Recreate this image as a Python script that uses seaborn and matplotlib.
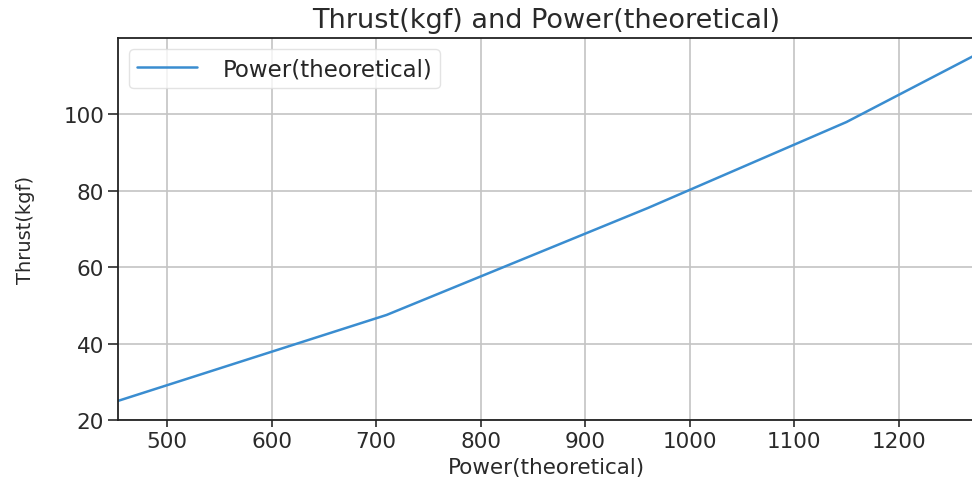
import matplotlib
matplotlib.use("Agg")
import matplotlib.pyplot as plt
import seaborn as sns
import pandas as pd

# Data
power = [453, 710, 960, 1150, 1273]
thrust = [25.0, 47.5, 75.5, 98.0, 115.5]
series_name = "Power(theoretical)"
title = "Thrust(kgf) and Power(theoretical)"
xlabel = "Power(theoretical)"
ylabel = "Thrust(kgf)"
xticks = [500, 600, 700, 800, 900, 1000, 1100, 1200]
yticks = [20, 40, 60, 80, 100]

sns.set_theme(style="ticks", rc={
    "axes.grid": True,
    "grid.color": "#c4c4c4",
    "grid.linewidth": 1.2,
    "axes.edgecolor": "#222222",
    "axes.linewidth": 1.3,
    "xtick.major.size": 5,
    "ytick.major.size": 7,
    "xtick.major.width": 1.2,
    "ytick.major.width": 1.2,
})
plt.rcParams["font.family"] = ["DejaVu Sans"]

df = pd.DataFrame({"power": power, "thrust": thrust, "series": series_name})

fig = plt.figure(figsize=(9.72, 4.81), dpi=100)
ax = fig.add_axes([118 / 972, 1 - 421 / 481, (975 - 118) / 972, (421 - 39) / 481])

sns.lineplot(data=df, x="power", y="thrust", hue="series", palette=["#3a8dd0"],
             linewidth=1.8, ax=ax)

ax.set_xlim(power[0], power[-1])
ax.set_ylim(20, 120)
ax.set_xticks(xticks)
ax.set_yticks(yticks)
ax.tick_params(axis="both", labelsize=15.5, colors="#2a2a2a", pad=3)
ax.set_title(title, fontsize=19.5, color="#2a2a2a", pad=8)
ax.set_xlabel(xlabel, fontsize=15.5, color="#2a2a2a", labelpad=4)
ax.set_ylabel(ylabel, fontsize=14, color="#2a2a2a", labelpad=20)
ax.spines["right"].set_visible(True)

leg = ax.legend(loc="upper left", fontsize=16.5, frameon=True, handlelength=2.6,
                handletextpad=1.1, borderaxespad=0.5, borderpad=0.35)
leg.get_frame().set_edgecolor("#dddddd")
leg.get_frame().set_alpha(0.8)

fig.savefig("out.png", dpi=100)
